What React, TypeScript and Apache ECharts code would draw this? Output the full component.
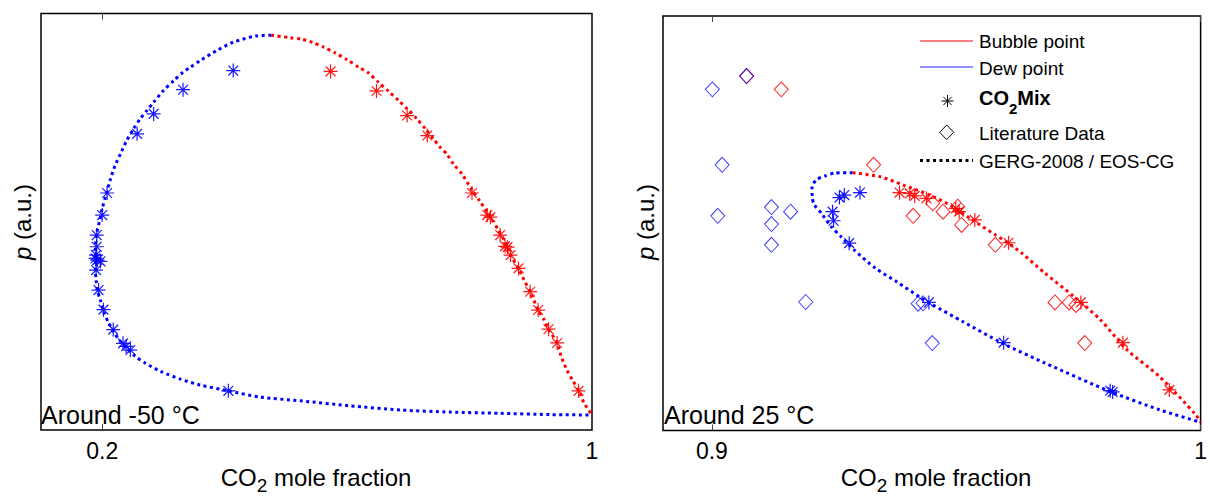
import { useEffect, useRef } from 'react';
import * as echarts from 'echarts';

type Pt = [number, number];

// ---- Around -50 °C: CO2 mole fraction vs pressure (a.u.) ----
const coldDewCurve: Pt[] = [
  [0.476, 94.8], [0.45, 94.6], [0.414, 93.1], [0.387, 91.1], [0.36, 88.7], [0.344, 87.1],
  [0.332, 85.9], [0.317, 83.9], [0.3, 81.5], [0.284, 78.7], [0.273, 76.7], [0.262, 74.7],
  [0.251, 72.3], [0.24, 69.5], [0.231, 66.7], [0.221, 63.5], [0.213, 60.0], [0.207, 56.8],
  [0.2, 53.2], [0.196, 50.4], [0.191, 47.2], [0.189, 43.6], [0.189, 40.8], [0.189, 38.4],
  [0.19, 36.0], [0.192, 33.6], [0.197, 31.2], [0.203, 28.1], [0.21, 25.9], [0.218, 23.7],
  [0.228, 21.6], [0.239, 19.7], [0.254, 17.7], [0.27, 16.1], [0.295, 14.1], [0.328, 12.2],
  [0.36, 10.8], [0.406, 9.4], [0.458, 7.9], [0.524, 7.0], [0.605, 5.8], [0.687, 4.8],
  [0.769, 4.3], [0.85, 4.0], [0.932, 3.7], [1.0, 3.6],
];
const coldBubbleCurve: Pt[] = [
  [0.476, 94.8], [0.507, 94.2], [0.524, 93.9], [0.543, 93.1], [0.562, 91.9], [0.581, 90.5],
  [0.6, 88.9], [0.619, 87.1], [0.635, 85.7], [0.651, 83.5], [0.668, 81.3], [0.684, 79.1],
  [0.698, 77.1], [0.714, 74.7], [0.728, 72.3], [0.741, 69.9], [0.752, 67.9], [0.763, 66.2],
  [0.774, 63.8], [0.788, 61.4], [0.804, 57.6], [0.818, 54.7], [0.837, 50.4], [0.847, 48.0],
  [0.858, 45.2], [0.867, 42.0], [0.88, 38.8], [0.889, 36.0], [0.899, 33.2], [0.912, 28.8],
  [0.922, 26.4], [0.929, 24.2], [0.943, 20.9], [0.95, 17.5], [0.959, 14.4], [0.968, 12.0],
  [0.978, 9.6], [0.987, 6.5], [1.0, 3.6],
];
const coldDewMix: Pt[] = [
  [0.414, 86.3], [0.332, 81.7], [0.284, 75.9], [0.257, 71.1], [0.208, 56.9], [0.2, 51.6],
  [0.191, 46.8], [0.191, 44.0], [0.19, 42.0], [0.189, 41.2], [0.192, 40.8], [0.197, 40.5],
  [0.19, 38.4], [0.194, 33.6], [0.202, 28.9], [0.218, 24.1], [0.234, 20.8], [0.239, 20.1],
  [0.246, 19.2], [0.406, 9.4],
];
const coldBubbleMix: Pt[] = [
  [0.573, 86.1], [0.648, 81.4], [0.698, 75.5], [0.731, 70.7], [0.804, 56.9], [0.829, 51.6],
  [0.834, 51.1], [0.85, 46.8], [0.858, 44.1], [0.862, 43.9], [0.867, 42.0], [0.88, 38.8],
  [0.899, 33.2], [0.912, 28.8], [0.929, 24.2], [0.943, 20.9], [0.978, 9.4],
];

// ---- Around 25 °C ----
const warmDewCurve: Pt[] = [
  [0.9288, 62.2], [0.9251, 62.1], [0.9231, 61.4], [0.9214, 60.5], [0.9205, 58.8],
  [0.9205, 56.4], [0.921, 54.4], [0.9224, 52.4], [0.9244, 49.2], [0.9264, 46.8],
  [0.9291, 43.6], [0.9334, 39.2], [0.9378, 35.9], [0.9425, 32.2], [0.9446, 30.7],
  [0.9513, 26.3], [0.9594, 21.1], [0.9681, 16.3], [0.9815, 9.4], [0.9916, 5.0], [1.0, 2.0],
];
const warmBubbleCurve: Pt[] = [
  [0.9288, 62.2], [0.9345, 61.2], [0.9392, 59.2], [0.9446, 56.8], [0.9493, 54.0],
  [0.9533, 50.8], [0.958, 47.2], [0.9607, 45.2], [0.9634, 42.8], [0.9681, 38.0],
  [0.9741, 32.3], [0.9795, 26.7], [0.9849, 19.5], [0.9916, 13.0], [0.999, 3.8], [1.0, 2.0],
];
const warmDewMix: Pt[] = [
  [0.9261, 56.2], [0.9271, 56.8], [0.9303, 57.4], [0.9247, 52.8], [0.9249, 50.6],
  [0.9281, 45.2], [0.9444, 30.9], [0.9597, 21.2], [0.9815, 9.6], [0.982, 9.3],
];
const warmBubbleMix: Pt[] = [
  [0.9384, 57.4], [0.9405, 57.2], [0.9415, 56.6], [0.9439, 56.0], [0.9499, 53.6],
  [0.9506, 52.8], [0.9538, 50.8], [0.9607, 45.3], [0.9755, 30.9], [0.9841, 21.2], [0.9936, 9.8],
];
const warmDewLit: Pt[] = [
  [0.9001, 82.3], [0.9071, 85.5], [0.9021, 64.1], [0.9012, 51.8], [0.9122, 53.9],
  [0.9122, 49.8], [0.9161, 52.8], [0.9122, 44.8], [0.9192, 31.0], [0.9422, 30.6],
  [0.9432, 30.7], [0.9451, 21.1],
];
const warmBubbleLit: Pt[] = [
  [0.9071, 85.5], [0.9142, 82.3], [0.9331, 64.1], [0.9412, 51.8], [0.9452, 54.8],
  [0.9473, 52.8], [0.9503, 54.0], [0.9511, 49.6], [0.958, 44.8], [0.9702, 30.9],
  [0.9731, 30.9], [0.9745, 30.3], [0.9763, 21.1],
];

const coldRange: [number, number] = [0.1, 1];
const warmRange: [number, number] = [0.89, 1];
const coldTicks = [0.2, 1];
const warmTicks = [0.9, 1];

const FONT = '"Liberation Sans", Arial, Helvetica, sans-serif';
const RED = '#ff0000';
const BLUE = '#0000ff';
const STAR = 'path://M6 0L6 12M0 6L12 6M1.8 1.8L10.2 10.2M1.8 10.2L10.2 1.8';
const DOTS = [3, 3.5];

const curve = (data: Pt[], color: string, axis: number) => ({
  type: 'line',
  xAxisIndex: axis * 2,
  yAxisIndex: axis,
  data,
  symbol: 'none',
  smooth: 0.25,
  silent: true,
  z: 2,
  lineStyle: { color, width: 3, type: DOTS, cap: 'butt' },
});

const stars = (data: Pt[], color: string, axis: number) => ({
  type: 'scatter',
  xAxisIndex: axis * 2,
  yAxisIndex: axis,
  data,
  symbol: STAR,
  symbolSize: 14,
  silent: true,
  z: 4,
  itemStyle: { color: 'rgba(0,0,0,0)', borderColor: color, borderWidth: 1.2, opacity: 0.9 },
});

const diamonds = (data: Pt[], color: string, axis: number, opacity: number) => ({
  type: 'scatter',
  xAxisIndex: axis * 2,
  yAxisIndex: axis,
  data,
  symbol: 'diamond',
  symbolSize: [14, 15],
  silent: true,
  z: 3,
  itemStyle: { color: 'rgba(0,0,0,0)', borderColor: color, borderWidth: 1, opacity },
});

const xAxes = (gridIndex: number, range: [number, number], ticks: number[]) => [
  {
    type: 'value',
    gridIndex,
    min: range[0],
    max: range[1],
    position: 'bottom',
    axisLine: { show: false },
    splitLine: { show: false },
    axisTick: { show: true, inside: true, length: 6, customValues: ticks, lineStyle: { color: '#444', width: 1 } },
    axisLabel: { customValues: ticks, fontFamily: FONT, fontSize: 23, color: '#000', margin: 9, formatter: (v: number) => String(v) },
  },
  {
    type: 'value',
    gridIndex,
    min: range[0],
    max: range[1],
    position: 'top',
    axisLine: { show: false },
    splitLine: { show: false },
    axisTick: { show: true, inside: true, length: 6, customValues: ticks, lineStyle: { color: '#444', width: 1 } },
    axisLabel: { show: false },
  },
];

const yAxis = (gridIndex: number) => ({
  type: 'value',
  gridIndex,
  min: 0,
  max: 100,
  axisLine: { show: false },
  axisTick: { show: false },
  axisLabel: { show: false },
  splitLine: { show: false },
});

const xName = (cx: number) => ({
  type: 'text',
  x: cx,
  y: 477,
  silent: true,
  style: {
    text: '{a|CO}{s|2}{a| mole fraction}',
    align: 'center',
    verticalAlign: 'middle',
    fill: '#000',
    font: `24px ${FONT}`,
    rich: {
      a: { fontSize: 24, fontFamily: FONT, lineHeight: 36, fill: '#000' },
      s: { fontSize: 19, fontFamily: FONT, lineHeight: 19, verticalAlign: 'bottom', fill: '#000' },
    },
  },
});

const yName = (cx: number) => ({
  type: 'text',
  x: cx,
  y: 222,
  rotation: Math.PI / 2,
  silent: true,
  style: {
    text: '{i|p}{a| (a.u.)}',
    align: 'center',
    verticalAlign: 'middle',
    fill: '#000',
    font: `24px ${FONT}`,
    rich: {
      i: { fontSize: 24, fontFamily: FONT, fontStyle: 'italic', fill: '#000' },
      a: { fontSize: 24, fontFamily: FONT, fill: '#000' },
    },
  },
});

const note = (x: number, text: string) => ({
  type: 'text',
  x,
  y: 415,
  silent: true,
  z: 10,
  style: { text, align: 'left', verticalAlign: 'middle', fill: '#000', font: `25px ${FONT}` },
});

const legendText = (y: number, text: string) => ({
  type: 'text',
  x: 979,
  y,
  silent: true,
  style: { text, align: 'left', verticalAlign: 'middle', fill: '#000', font: `19px ${FONT}` },
});

const legend = [
  { type: 'line', silent: true, shape: { x1: 920, y1: 41, x2: 973, y2: 41 }, style: { stroke: RED, lineWidth: 1 } },
  legendText(41.7, 'Bubble point'),
  { type: 'line', silent: true, shape: { x1: 920, y1: 67, x2: 973, y2: 67 }, style: { stroke: '#2020ff', lineWidth: 1 } },
  legendText(68.3, 'Dew point'),
  {
    type: 'group',
    x: 947.5,
    y: 101,
    silent: true,
    children: [
      { type: 'line', shape: { x1: 0, y1: -6, x2: 0, y2: 6 }, style: { stroke: '#000', lineWidth: 1 } },
      { type: 'line', shape: { x1: -6, y1: 0, x2: 6, y2: 0 }, style: { stroke: '#000', lineWidth: 1 } },
      { type: 'line', shape: { x1: -4.2, y1: -4.2, x2: 4.2, y2: 4.2 }, style: { stroke: '#000', lineWidth: 1 } },
      { type: 'line', shape: { x1: -4.2, y1: 4.2, x2: 4.2, y2: -4.2 }, style: { stroke: '#000', lineWidth: 1 } },
    ],
  },
  {
    type: 'text',
    x: 979,
    y: 98.3,
    silent: true,
    style: {
      text: '{b|CO}{s|2}{b|Mix}',
      align: 'left',
      verticalAlign: 'middle',
      fill: '#000',
      font: `bold 19px ${FONT}`,
      rich: {
        b: { fontSize: 20, fontWeight: 'bold', fontFamily: FONT, lineHeight: 36, fill: '#000' },
        s: { fontSize: 15, fontWeight: 'bold', fontFamily: FONT, lineHeight: 15, verticalAlign: 'bottom', fill: '#000' },
      },
    },
  },
  {
    type: 'polygon',
    silent: true,
    shape: { points: [[946.7, 125], [953.7, 132.3], [946.7, 139.6], [939.7, 132.3]] },
    style: { fill: 'none', stroke: '#000', lineWidth: 1 },
  },
  legendText(133, 'Literature Data'),
  {
    type: 'line',
    silent: true,
    shape: { x1: 920, y1: 160.5, x2: 973, y2: 160.5 },
    style: { stroke: '#000', lineWidth: 3, lineDash: DOTS, lineCap: 'butt' },
  },
  legendText(161.7, 'GERG-2008 / EOS-CG'),
];

export default function App() {
  const ref = useRef<HTMLDivElement>(null);

  useEffect(() => {
    if (!ref.current) return;
    const chart = echarts.init(ref.current, undefined, { renderer: 'svg' });
    chart.setOption({
      animation: false,
      backgroundColor: '#fff',
      textStyle: { fontFamily: FONT },
      grid: [
        { left: 41, top: 13.5, width: 551, height: 416.5, show: true, borderColor: '#000', borderWidth: 1.5, backgroundColor: 'transparent' },
        { left: 663, top: 16, width: 545.5, height: 414.5, show: true, borderColor: '#000', borderWidth: 1.5, backgroundColor: 'transparent' },
      ],
      xAxis: [...xAxes(0, coldRange, coldTicks), ...xAxes(1, warmRange, warmTicks)],
      yAxis: [yAxis(0), yAxis(1)],
      series: [
        curve(coldDewCurve, BLUE, 0),
        curve(coldBubbleCurve, RED, 0),
        stars(coldDewMix, BLUE, 0),
        stars(coldBubbleMix, RED, 0),
        curve(warmDewCurve, BLUE, 1),
        curve(warmBubbleCurve, RED, 1),
        diamonds(warmBubbleLit, RED, 1, 0.85),
        diamonds(warmDewLit, BLUE, 1, 0.75),
        stars(warmDewMix, BLUE, 1),
        stars(warmBubbleMix, RED, 1),
      ],
      graphic: [
        yName(22.5),
        yName(645),
        xName(316),
        xName(936),
        note(41, 'Around -50 °C'),
        note(664, 'Around 25 °C'),
        ...legend,
      ],
    });
    return () => chart.dispose();
  }, []);

  return (
    <div
      ref={ref}
      style={{ position: 'fixed', left: 0, top: 0, width: 1210, height: 496, background: '#fff' }}
    />
  );
}
